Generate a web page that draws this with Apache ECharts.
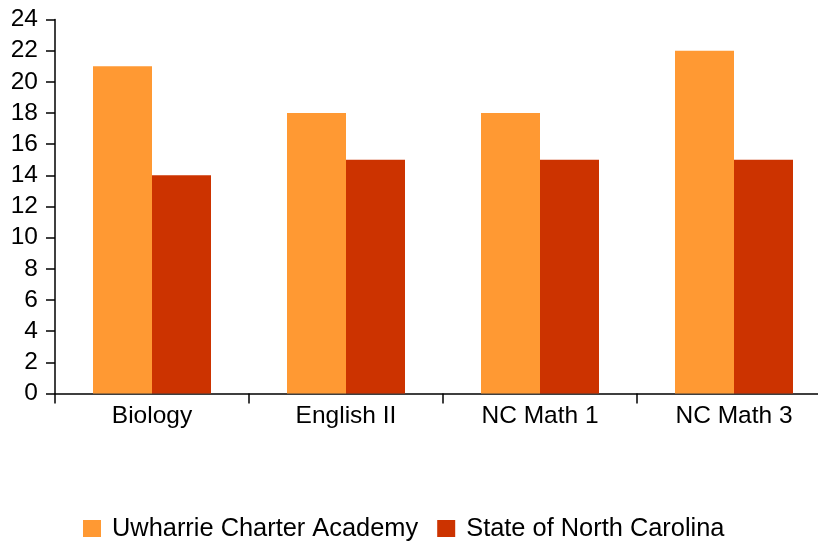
<!DOCTYPE html>
<html>
<head>
<meta charset="utf-8">
<script src="https://cdn.jsdelivr.net/npm/echarts@6/dist/echarts.min.js"></script>
<style>
html,body{margin:0;padding:0;background:#fff;}
#chart{width:818px;height:546px;}
</style>
</head>
<body>
<div id="chart"></div>
<script>
const categories = ['Biology', 'English II', 'NC Math 1', 'NC Math 3'];
const uwharrie = [21, 18, 18, 22];
const stateNC = [14, 15, 15, 15];
const seriesNames = ['Uwharrie Charter Academy', 'State of North Carolina'];

const FONT = '"Liberation Sans", Arial, sans-serif';
const chart = echarts.init(document.getElementById('chart'), null, {renderer: 'canvas'});
chart.setOption({
  animation: false,
  backgroundColor: '#ffffff',
  textStyle: {fontFamily: FONT, color: '#000'},
  grid: {left: 55, top: 19.5, height: 374, width: 776, containLabel: false, outerBoundsMode: 'none'},
  legend: {
    data: seriesNames,
    left: 78,
    top: 511,
    icon: 'rect',
    itemWidth: 18,
    itemHeight: 17,
    itemGap: 19,
    textStyle: {fontFamily: FONT, fontSize: 25.4, color: '#000', padding: [0, 0, 0, 6]}
  },
  xAxis: {
    type: 'category',
    data: categories,
    axisLine: {lineStyle: {color: '#000', width: 1.5}},
    axisTick: {show: true, length: 10, lineStyle: {color: '#000', width: 1.5}},
    axisLabel: {fontFamily: FONT, fontSize: 24.5, color: '#000', margin: 10},
    splitLine: {show: false}
  },
  yAxis: {
    type: 'value',
    min: 0,
    max: 24,
    interval: 2,
    axisLine: {show: true, onZero: false, lineStyle: {color: '#000', width: 1.5}},
    axisTick: {show: true, inside: false, length: 9, lineStyle: {color: '#000', width: 1.5}},
    axisLabel: {fontFamily: FONT, fontSize: 24.5, color: '#000', margin: 17},
    splitLine: {show: false}
  },
  series: [
    {name: seriesNames[0], type: 'bar', data: uwharrie, barWidth: 59, barGap: '0%', itemStyle: {color: '#FF9933'}},
    {name: seriesNames[1], type: 'bar', data: stateNC, barWidth: 59, barGap: '0%', itemStyle: {color: '#CC3300'}}
  ]
});
</script>
</body>
</html>
